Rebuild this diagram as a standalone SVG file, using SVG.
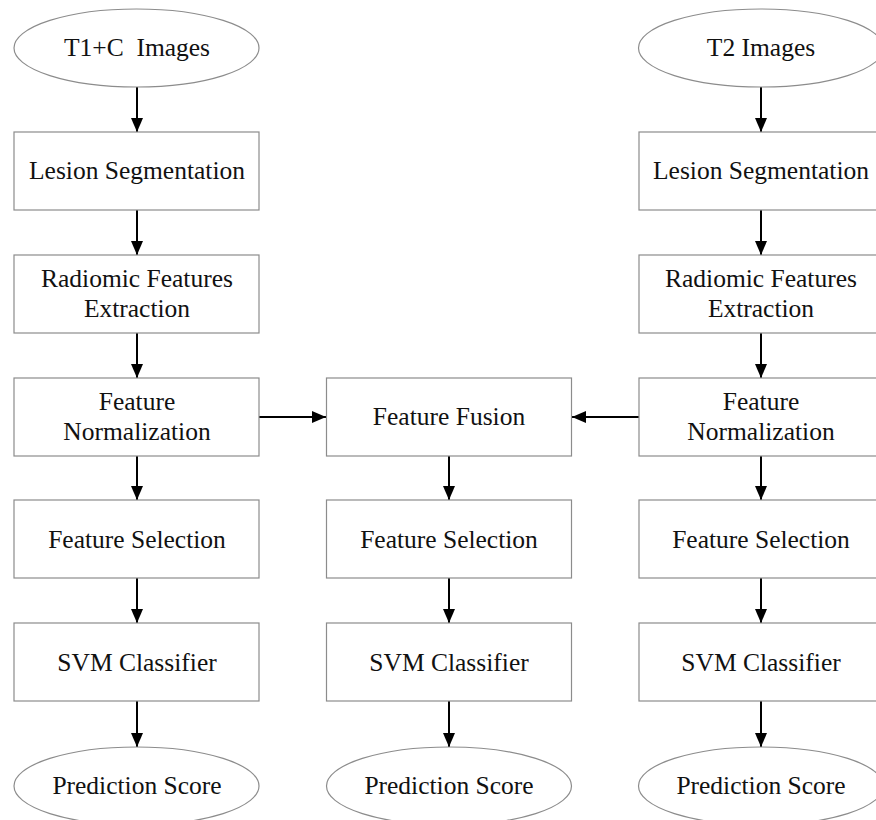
<svg xmlns="http://www.w3.org/2000/svg" width="876" height="820" viewBox="0 0 876 820">
<style>
rect.box{fill:#fff;stroke:#8c8c8c;stroke-width:1.2}
ellipse.term{fill:#fff;stroke:#8c8c8c;stroke-width:1.2}
text{font-family:"Liberation Serif","Times New Roman",serif;font-size:25.5px;fill:#111;text-anchor:middle}
.conn line{stroke:#000;stroke-width:2;marker-end:url(#ah)}
</style>
<defs>
<marker id="ah" markerUnits="userSpaceOnUse" markerWidth="14" markerHeight="12" refX="14" refY="6" orient="auto">
<path d="M0,0 L14,6 L0,12 z" fill="#000"/>
</marker>
</defs>
<rect width="876" height="820" fill="#fff"/>
<g class="conn">
<line x1="137" y1="87" x2="137" y2="132"/>
<line x1="137" y1="210" x2="137" y2="255"/>
<line x1="137" y1="333" x2="137" y2="378"/>
<line x1="137" y1="456" x2="137" y2="500"/>
<line x1="137" y1="578" x2="137" y2="623"/>
<line x1="137" y1="701" x2="137" y2="747"/>
<line x1="449" y1="456" x2="449" y2="500"/>
<line x1="449" y1="578" x2="449" y2="623"/>
<line x1="449" y1="701" x2="449" y2="747"/>
<line x1="761" y1="87" x2="761" y2="132"/>
<line x1="761" y1="210" x2="761" y2="255"/>
<line x1="761" y1="333" x2="761" y2="378"/>
<line x1="761" y1="456" x2="761" y2="500"/>
<line x1="761" y1="578" x2="761" y2="623"/>
<line x1="761" y1="701" x2="761" y2="747"/>
<line x1="259" y1="417" x2="326" y2="417"/>
<line x1="639" y1="417" x2="572" y2="417"/>
</g>
<g id="t1c-images"><ellipse class="term" cx="136.5" cy="48" rx="122.5" ry="39"/><text x="137" y="56" xml:space="preserve">T1+C  Images</text></g>
<g id="t1-lesion"><rect class="box" x="14" y="132" width="245" height="78"/><text x="137" y="179">Lesion Segmentation</text></g>
<g id="t1-radiomic"><rect class="box" x="14" y="255" width="245" height="78"/><text x="137" y="287">Radiomic Features</text><text x="137" y="317">Extraction</text></g>
<g id="t1-norm"><rect class="box" x="14" y="378" width="245" height="78"/><text x="137" y="410">Feature</text><text x="137" y="440">Normalization</text></g>
<g id="t1-select"><rect class="box" x="14" y="500" width="245" height="78"/><text x="137" y="548">Feature Selection</text></g>
<g id="t1-svm"><rect class="box" x="14" y="623" width="245" height="78"/><text x="137" y="671">SVM Classifier</text></g>
<g id="t1-score"><ellipse class="term" cx="136.5" cy="786" rx="122.5" ry="39"/><text x="137" y="794">Prediction Score</text></g>
<g id="fusion"><rect class="box" x="326.5" y="378" width="245" height="78"/><text x="449" y="425">Feature Fusion</text></g>
<g id="fus-select"><rect class="box" x="326.5" y="500" width="245" height="78"/><text x="449" y="548">Feature Selection</text></g>
<g id="fus-svm"><rect class="box" x="326.5" y="623" width="245" height="78"/><text x="449" y="671">SVM Classifier</text></g>
<g id="fus-score"><ellipse class="term" cx="449" cy="786" rx="122.5" ry="39"/><text x="449" y="794">Prediction Score</text></g>
<g id="t2-images"><ellipse class="term" cx="761" cy="48" rx="122.5" ry="39"/><text x="761" y="56">T2 Images</text></g>
<g id="t2-lesion"><rect class="box" x="639" y="132" width="245" height="78"/><text x="761" y="179">Lesion Segmentation</text></g>
<g id="t2-radiomic"><rect class="box" x="639" y="255" width="245" height="78"/><text x="761" y="287">Radiomic Features</text><text x="761" y="317">Extraction</text></g>
<g id="t2-norm"><rect class="box" x="639" y="378" width="245" height="78"/><text x="761" y="410">Feature</text><text x="761" y="440">Normalization</text></g>
<g id="t2-select"><rect class="box" x="639" y="500" width="245" height="78"/><text x="761" y="548">Feature Selection</text></g>
<g id="t2-svm"><rect class="box" x="639" y="623" width="245" height="78"/><text x="761" y="671">SVM Classifier</text></g>
<g id="t2-score"><ellipse class="term" cx="761" cy="786" rx="122.5" ry="39"/><text x="761" y="794">Prediction Score</text></g>
</svg>
